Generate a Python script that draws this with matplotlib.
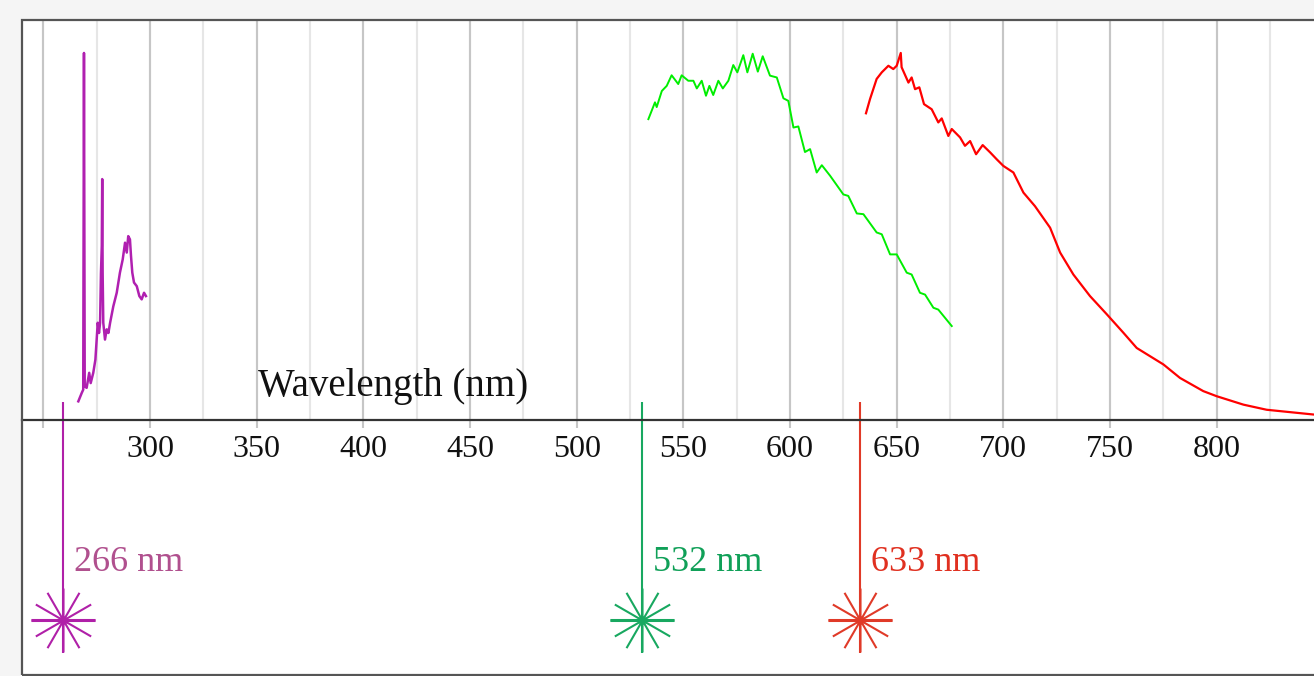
import numpy as np
import matplotlib.pyplot as plt
from matplotlib.path import Path
from matplotlib.patches import Rectangle

# spectra (wavelength nm, normalised intensity)
uv_nm = [266.4, 268.0, 268.7, 269.05, 269.4, 270.3, 271.5, 272.2, 273.4, 274.4,
         275.0, 275.5, 276.1, 276.6, 277.0, 277.4, 277.6, 277.8, 278.1, 278.9,
         279.7, 280.5, 281.3, 282.8, 284.4, 285.9, 287.2, 288.3, 289.1, 289.8,
         290.6, 291.1, 291.7, 292.5, 293.8, 295.0, 296.1, 297.2, 298.1]
uv_int = [0.050, 0.073, 0.082, 1.003, 0.091, 0.087, 0.128, 0.100, 0.128, 0.164,
          0.219, 0.265, 0.237, 0.265, 0.400, 0.475, 0.658, 0.400, 0.265, 0.219,
          0.247, 0.237, 0.265, 0.310, 0.347, 0.402, 0.438, 0.484, 0.457, 0.502,
          0.493, 0.447, 0.402, 0.375, 0.365, 0.338, 0.329, 0.347, 0.338]

green_nm = [533.6, 536.7, 537.5, 539.9, 542.2, 544.5, 547.6, 549.2, 552.3, 554.7,
            556.3, 558.6, 560.6, 562.2, 564.0, 566.4, 568.5, 571.1, 573.4, 575.3,
            578.1, 580.0, 582.5, 584.9, 587.2, 590.6, 593.8, 596.9, 599.2, 601.6,
            603.9, 607.0, 609.4, 612.5, 614.9, 618.8, 625.0, 627.3, 631.3, 634.4,
            640.6, 643.0, 646.9, 650.0, 654.7, 657.0, 660.9, 663.3, 667.2, 669.5,
            675.8]
green_int = [0.822, 0.868, 0.855, 0.899, 0.913, 0.942, 0.918, 0.942, 0.927, 0.927,
             0.906, 0.927, 0.886, 0.913, 0.888, 0.927, 0.906, 0.927, 0.970, 0.950,
             0.997, 0.950, 1.001, 0.952, 0.994, 0.941, 0.936, 0.879, 0.872, 0.799,
             0.802, 0.732, 0.740, 0.676, 0.696, 0.667, 0.616, 0.612, 0.564, 0.562,
             0.512, 0.507, 0.452, 0.452, 0.402, 0.397, 0.347, 0.342, 0.306, 0.301,
             0.256]

red_nm = [635.6, 637.5, 640.6, 643.0, 646.1, 648.4, 650.0, 651.9, 652.3, 655.5,
          657.0, 658.6, 660.6, 662.8, 666.4, 669.5, 671.1, 674.2, 675.8, 679.7,
          682.0, 684.4, 687.2, 690.3, 693.8, 696.9, 700.0, 704.7, 709.4, 714.8,
          721.9, 726.6, 732.8, 740.6, 748.5, 756.2, 762.5, 775.0, 782.8, 793.7,
          800.0, 812.5, 823.4, 845.3, 860.0]
red_int = [0.838, 0.877, 0.932, 0.950, 0.968, 0.959, 0.968, 1.003, 0.964, 0.922,
           0.936, 0.904, 0.909, 0.863, 0.849, 0.813, 0.824, 0.776, 0.795, 0.772,
           0.749, 0.762, 0.726, 0.751, 0.731, 0.712, 0.694, 0.676, 0.621, 0.584,
           0.525, 0.457, 0.397, 0.338, 0.288, 0.238, 0.196, 0.151, 0.114, 0.078,
           0.064, 0.041, 0.027, 0.014, 0.008]

# laser lines (marker position, label)
laser_nm = [259.2, 530.6, 632.8]
laser_labels = ['266 nm', '532 nm', '633 nm']
laser_colors = ['#b020a8', '#18a860', '#e03a28']
label_colors = ['#b0508e', '#10a058', '#e03020']

major_ticks = [250, 300, 350, 400, 450, 500, 550, 600, 650, 700, 750, 800]
tick_labels = ['', '300', '350', '400', '450', '500', '550', '600', '650',
               '700', '750', '800']
minor_ticks = np.arange(250, 851, 25)

XMIN, XMAX = 240.0, 845.6
YMIN, YMAX = -0.6986, 1.0932

plt.rcParams['font.family'] = ['Liberation Serif', 'DejaVu Serif']

fig = plt.figure(figsize=(13.14, 6.76), dpi=100, facecolor='#f5f5f5')
ax = fig.add_axes([22 / 1314, 1 / 676, 1 - 22 / 1314, 655 / 676])
ax.set_facecolor('white')

# grid lines only above the axis
ax.vlines(minor_ticks, 0, YMAX, colors='#e6e6e6', lw=1.5, zorder=0)
ax.vlines(major_ticks, 0, YMAX, colors='#c6c6c6', lw=1.5, zorder=0)

for s in ['top', 'left', 'right']:
    ax.spines[s].set_visible(False)
ax.spines['bottom'].set_position(('data', 0))
ax.spines['bottom'].set_color('#333333')
ax.spines['bottom'].set_linewidth(1.6)
ax.add_patch(Rectangle((0, 0), 1.05, 1, transform=ax.transAxes, fill=False,
                       edgecolor='#555555', lw=1.6, clip_on=False, zorder=5))

ax.set_xticks(major_ticks)
ax.set_xticklabels(tick_labels)
ax.tick_params(axis='x', direction='out', length=6, width=1.5, color='#c6c6c6',
               labelsize=23, labelcolor='#111111', pad=5)
ax.set_yticks([])

ax.plot(uv_nm, uv_int, color='#b020b0', lw=1.8)
ax.plot(green_nm, green_int, color='#00ee00', lw=1.4)
ax.plot(red_nm, red_int, color='#ff0000', lw=1.6)

ax.text(350.6, 0.064, 'Wavelength (nm)', fontsize=28, color='#111111',
        ha='left', va='baseline')

# laser markers: line + star
angles = np.deg2rad([0, 30, 60, 90, 120, 150])
verts, codes = [], []
for a in angles:
    verts += [(-np.cos(a), -np.sin(a)), (np.cos(a), np.sin(a))]
    codes += [Path.MOVETO, Path.LINETO]
star = Path(verts, codes)

star_y = -0.548
for x, lab, c, tc in zip(laser_nm, laser_labels, laser_colors, label_colors):
    ax.vlines(x, -0.638, 0.047, colors=c, lw=1.5)
    ax.plot([x], [star_y], marker=star, ms=46, mew=1.5, mec=c, ls='none')
    ax.plot([x], [star_y], marker='_', ms=46, mew=2.2, mec=c, ls='none')
    ax.plot([x], [star_y], marker='o', ms=3.5, mfc=c, mec=c, ls='none')
    ax.annotate(lab, (x, -0.415), xytext=(8, 0), textcoords='offset points',
                fontsize=26, color=tc, ha='left', va='baseline')

ax.set_xlim(XMIN, XMAX)
ax.set_ylim(YMIN, YMAX)

plt.savefig('out.png', dpi=100, facecolor=fig.get_facecolor())
